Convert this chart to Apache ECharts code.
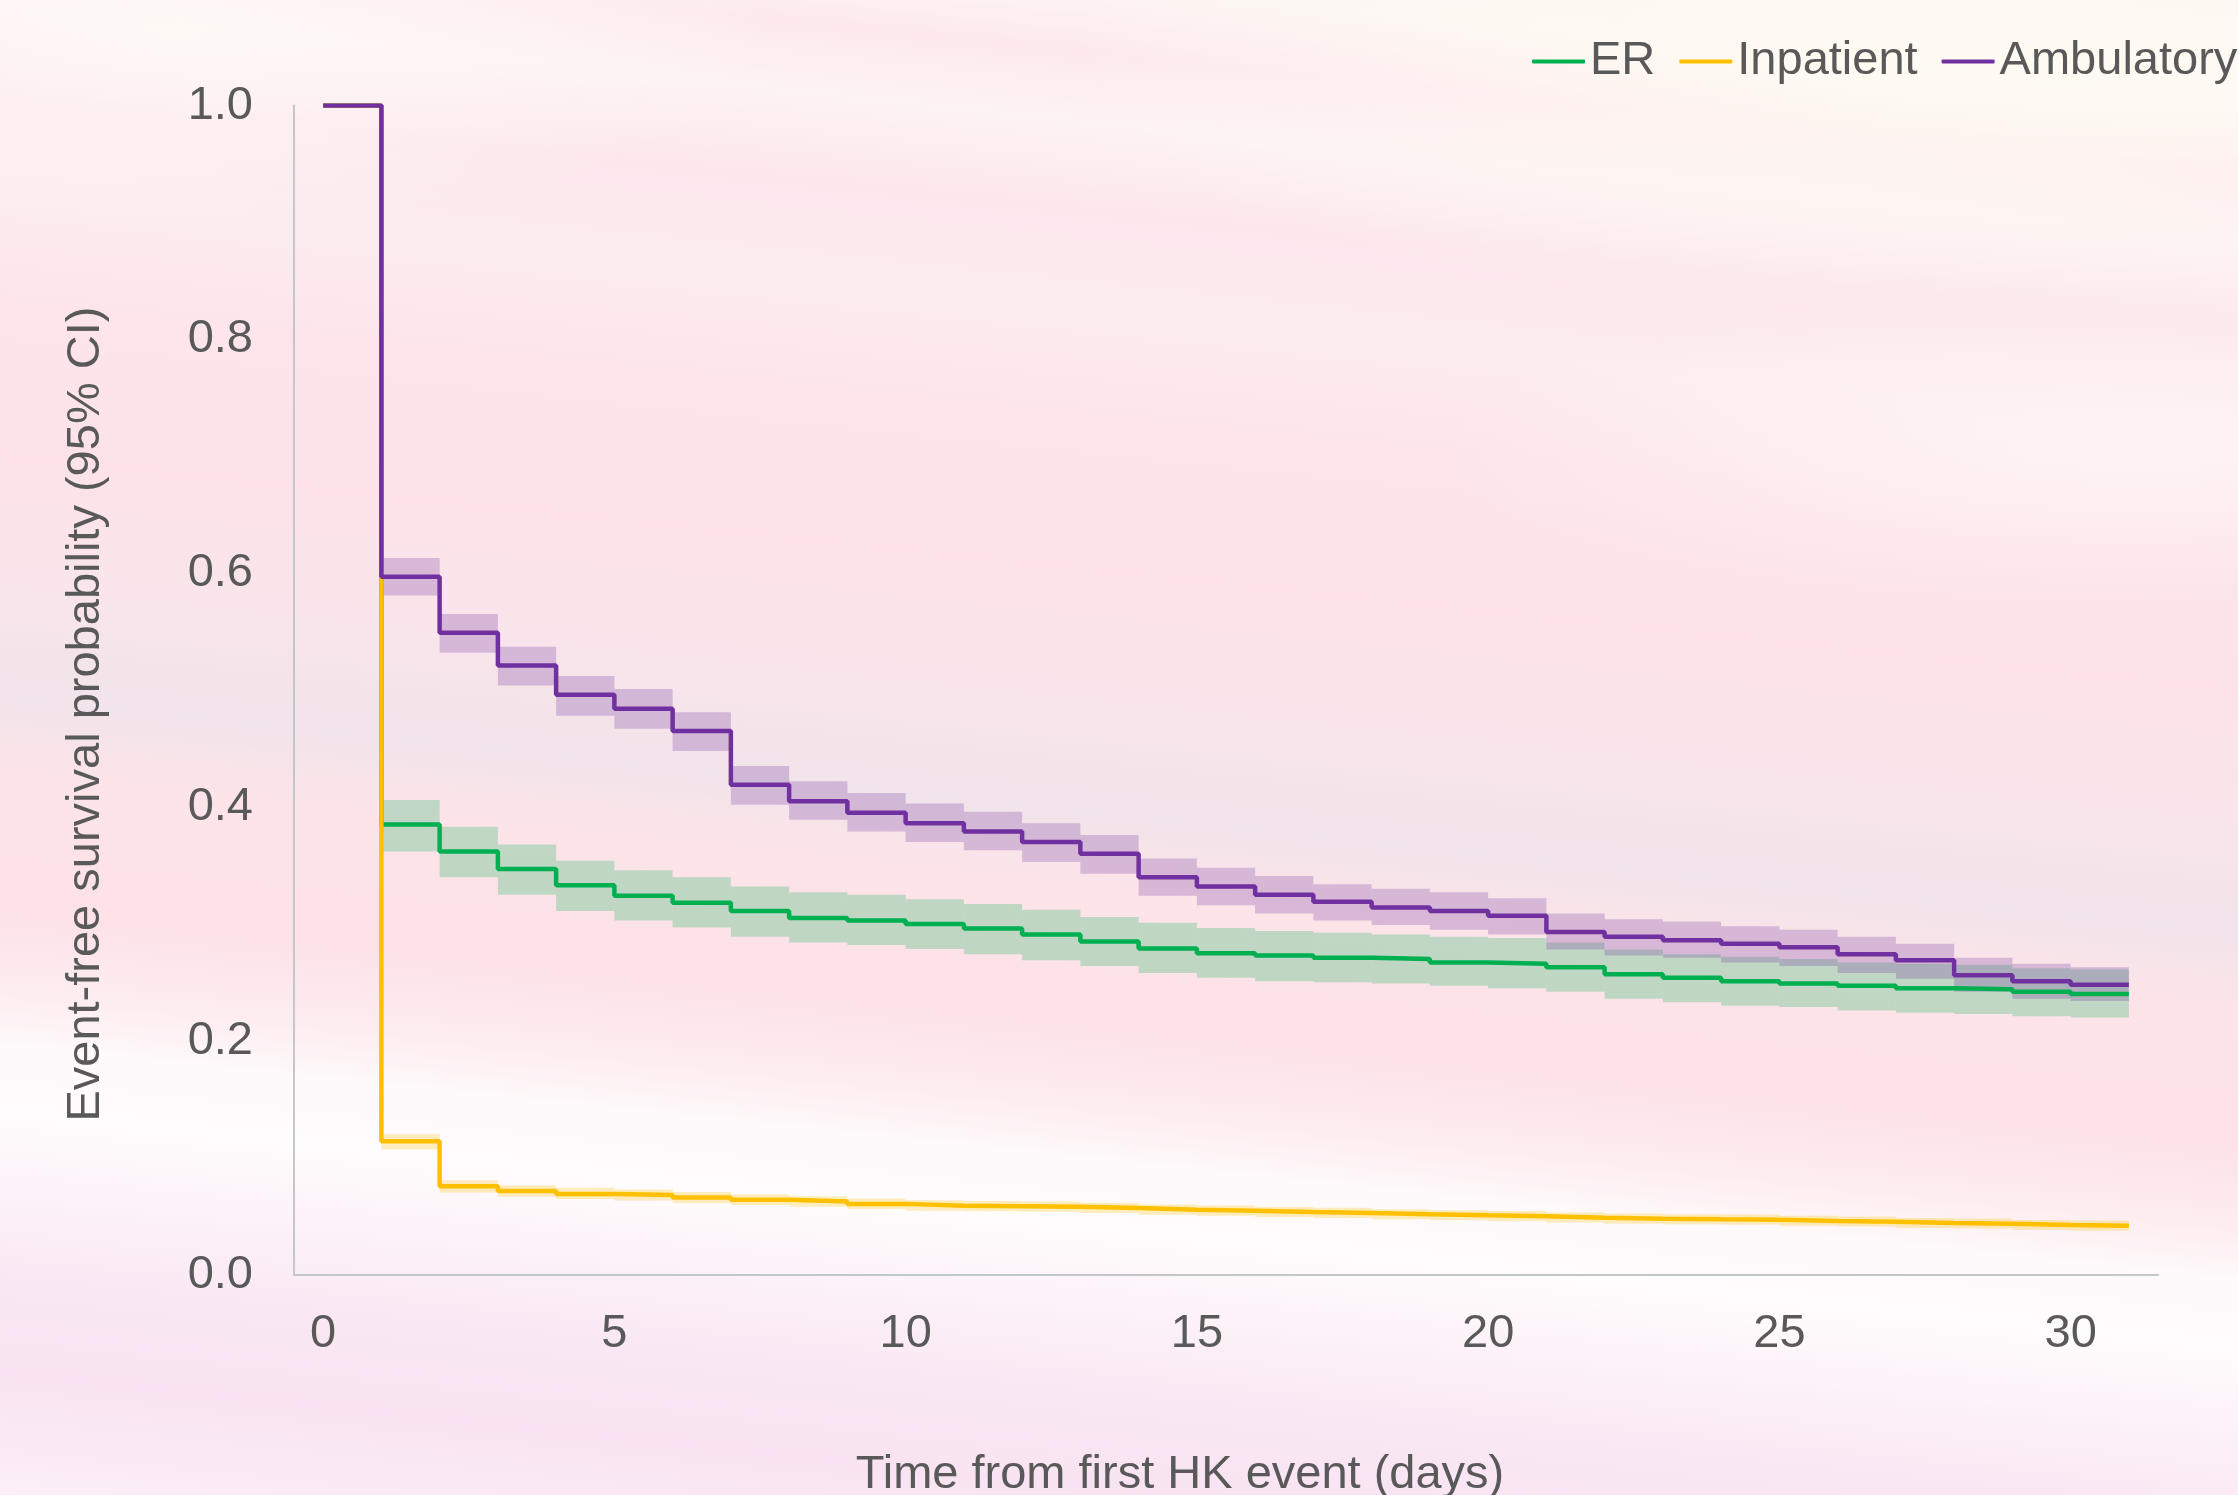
<!DOCTYPE html>
<html><head><meta charset="utf-8">
<script src="https://cdn.jsdelivr.net/npm/echarts@6/dist/echarts.min.js"></script>
<style>
html,body{margin:0;padding:0;width:2238px;height:1495px;overflow:hidden;}
body{
 background:
  radial-gradient(ellipse 900px 260px at 88% 4%, rgba(255,252,242,0.85), rgba(255,252,242,0) 100%),
  radial-gradient(ellipse 700px 160px at 95% 30%, rgba(255,248,244,0.7), rgba(255,248,244,0) 100%),
  radial-gradient(ellipse 600px 200px at 8% 2%, rgba(255,250,246,0.8), rgba(255,250,246,0) 100%),
  linear-gradient(186deg,
   #fcf3f1 0%, #fdf6f3 6%, #fde9ee 10%, #fdf3f3 14%, #fce7ed 19%, #fcecf0 25%,
   #fde5eb 31%, #fde3e9 40%, #f9e5eb 47%, #f1e4ea 54%, #fce4e9 58%, #fde2e8 66%,
   #fdedf1 71%, #fef9fa 74%, #fffcfd 78%, #fcf1f7 83%, #f9e7f4 88%, #f9e3f2 93%, #fbeff8 100%);
}
#chart{width:2238px;height:1495px;}
</style></head><body><div id="chart"></div>
<script>
const xLabels = ['0','1','2','3','4','5','6','7','8','9','10','11','12','13','14','15','16','17','18','19','20','21','22','23','24','25','26','27','28','29','30','31'];

const erS  = [1.0, 0.385, 0.362, 0.347, 0.333, 0.324, 0.318, 0.311, 0.305, 0.303, 0.300, 0.296, 0.291, 0.285, 0.279, 0.275, 0.273, 0.271, 0.270, 0.267, 0.266, 0.263, 0.257, 0.254, 0.251, 0.249, 0.247, 0.245, 0.244, 0.242, 0.240, 0.240];
const erHi = [1.0, 0.406, 0.383, 0.368, 0.354, 0.346, 0.340, 0.332, 0.327, 0.325, 0.321, 0.317, 0.312, 0.306, 0.301, 0.2965, 0.294, 0.2925, 0.291, 0.289, 0.288, 0.284, 0.278, 0.274, 0.272, 0.270, 0.267, 0.266, 0.265, 0.262, 0.261, 0.261];
const erLo = [1.0, 0.362, 0.340, 0.325, 0.311, 0.303, 0.297, 0.289, 0.284, 0.282, 0.2785, 0.274, 0.269, 0.264, 0.258, 0.254, 0.251, 0.250, 0.249, 0.247, 0.245, 0.242, 0.236, 0.233, 0.230, 0.229, 0.226, 0.224, 0.223, 0.221, 0.220, 0.220];

const inpS  = [1.0, 0.114, 0.0755, 0.0715, 0.069, 0.068, 0.066, 0.064, 0.0625, 0.0605, 0.059, 0.0585, 0.058, 0.057, 0.0555, 0.0547, 0.0535, 0.0527, 0.0516, 0.0507, 0.0499, 0.0487, 0.0478, 0.0473, 0.047, 0.0459, 0.0453, 0.0441, 0.0436, 0.0424, 0.0418, 0.0418];
const inpHi = [1.0, 0.120, 0.0807, 0.0764, 0.0744, 0.0728, 0.0707, 0.0688, 0.0671, 0.0651, 0.0636, 0.0629, 0.0625, 0.0614, 0.0599, 0.0591, 0.0579, 0.0571, 0.0560, 0.0551, 0.0543, 0.0531, 0.0522, 0.0517, 0.0514, 0.0503, 0.0497, 0.0485, 0.0480, 0.0468, 0.0462, 0.0462];
const inpLo = [1.0, 0.107, 0.0700, 0.0667, 0.0647, 0.0633, 0.0613, 0.0596, 0.0580, 0.0561, 0.0547, 0.0542, 0.0537, 0.0527, 0.0512, 0.0504, 0.0493, 0.0485, 0.0474, 0.0465, 0.0457, 0.0445, 0.0436, 0.0431, 0.0428, 0.0417, 0.0411, 0.0399, 0.0394, 0.0382, 0.0376, 0.0376];

const ambS  = [1.0, 0.597, 0.549, 0.521, 0.496, 0.484, 0.465, 0.419, 0.405, 0.395, 0.386, 0.379, 0.370, 0.360, 0.340, 0.332, 0.325, 0.319, 0.314, 0.311, 0.307, 0.293, 0.289, 0.286, 0.283, 0.280, 0.274, 0.269, 0.256, 0.251, 0.248, 0.248];
const ambHi = [1.0, 0.613, 0.565, 0.537, 0.512, 0.501, 0.481, 0.435, 0.422, 0.412, 0.403, 0.396, 0.386, 0.376, 0.356, 0.348, 0.341, 0.334, 0.330, 0.327, 0.322, 0.309, 0.304, 0.302, 0.298, 0.295, 0.289, 0.283, 0.271, 0.266, 0.263, 0.263];
const ambLo = [1.0, 0.581, 0.532, 0.504, 0.478, 0.467, 0.448, 0.402, 0.389, 0.379, 0.370, 0.363, 0.353, 0.343, 0.324, 0.316, 0.309, 0.303, 0.299, 0.295, 0.291, 0.278, 0.273, 0.271, 0.267, 0.264, 0.258, 0.253, 0.242, 0.236, 0.234, 0.234];

const yTicks = ['0.0','0.2','0.4','0.6','0.8','1.0'];
const seriesNames = ['ER','Inpatient','Ambulatory'];

const FONT = "'Liberation Sans', Arial, sans-serif";
const TXT = '#595959';
const AXIS = '#c4c7c7';

function bandData(lo, hi){
  const out = [];
  for (let i = 0; i < lo.length - 1; i++) out.push([i, lo[i], hi[i]]);
  return out;
}
function bandRender(fill){
  return function(params, api){
    const i = api.value(0);
    const top = api.coord([i, api.value(2)]);
    const bot = api.coord([i, api.value(1)]);
    const w = api.size([1, 0])[0];
    return {type:'rect', shape:{x: top[0], y: top[1], width: w, height: bot[1] - top[1]}, style:{fill: fill}};
  };
}
function band(name, lo, hi, fill){
  return {name: name, type:'custom', renderItem: bandRender(fill), data: bandData(lo, hi),
          encode:{x:0, y:[1,2]}, silent:true, z:1};
}
function line(name, data, color){
  return {name: name, type:'line', step:'end', data: data, symbol:'none', showSymbol:false,
          color: color, lineStyle:{width:4.5, color: color}, z:3, emphasis:{disabled:true}};
}

const chart = echarts.init(document.getElementById('chart'), null, {renderer:'canvas'});
chart.setOption({
  animation:false,
  backgroundColor:'transparent',
  textStyle:{fontFamily: FONT},
  grid:{left:294, right:80, top:105.6, bottom:220.4, containLabel:false, outerBoundsMode:'none'},
  legend:{
    data: seriesNames, left:1532, top:38, width:900, padding:0, itemGap:24,
    itemWidth:53, itemHeight:4, icon:'roundRect',
    textStyle:{fontSize:47, color:TXT, fontFamily:FONT, lineHeight:47},
    selectedMode:false
  },
  xAxis:{
    type:'category', data:xLabels, boundaryGap:true,
    axisLine:{show:true, lineStyle:{color:AXIS, width:2}},
    axisTick:{show:false},
    splitLine:{show:false},
    axisLabel:{interval:4, margin:36, fontSize:47, color:TXT, fontFamily:FONT},
    name:'Time from first HK event (days)', nameLocation:'middle', nameGap:177,
    nameTextStyle:{fontSize:47, color:TXT, fontFamily:FONT, padding:[0,92,0,0]}
  },
  yAxis:{
    type:'value', min:0, max:1, interval:0.2,
    axisLine:{show:true, lineStyle:{color:AXIS, width:2}},
    axisTick:{show:false},
    splitLine:{show:false},
    axisLabel:{margin:41, fontSize:47, color:TXT, fontFamily:FONT,
      formatter: function(v){ return yTicks[Math.round(v / 0.2)]; }},
    name:'Event-free survival probability (95% CI)', nameLocation:'middle', nameGap:184,
    nameTextStyle:{fontSize:47, color:TXT, fontFamily:FONT, padding:[0,48,0,0]}
  },
  series:[
    band('ER CI', erLo, erHi, 'rgba(0,176,80,0.24)'),
    band('Inpatient CI', inpLo, inpHi, 'rgba(255,192,0,0.25)'),
    band('Ambulatory CI', ambLo, ambHi, 'rgba(112,48,160,0.25)'),
    line('ER', erS, '#00b050'),
    line('Inpatient', inpS, '#ffc000'),
    line('Ambulatory', ambS, '#7030a0')
  ]
});
</script></body></html>
